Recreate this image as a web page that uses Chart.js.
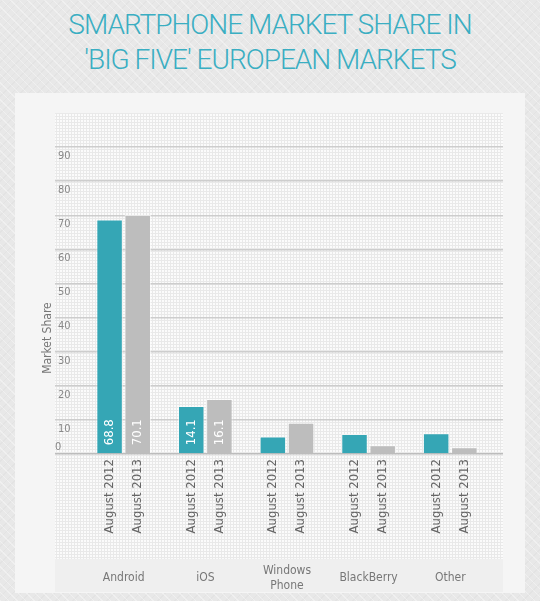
<!DOCTYPE html>
<html>
<head>
<meta charset="utf-8">
<title>Smartphone market share</title>
<script src="https://cdn.jsdelivr.net/npm/chart.js@4.4.1/dist/chart.umd.min.js"></script>
<style>
body {
	margin: 0;
	width: 540px;
	height: 601px;
	overflow: hidden;
	background-color: #e8e8e8;
	background-image:
		repeating-linear-gradient(45deg, rgba(255,255,255,0.35) 0 1px, transparent 1px 6px),
		repeating-linear-gradient(-45deg, rgba(0,0,0,0.025) 0 1px, transparent 1px 6px);
}
#title {
	position: absolute;
	left: 0;
	top: 7px;
	width: 540px;
	text-align: center;
	font-family: Roboto, "Open Sans", sans-serif;
	font-weight: 300;
	font-size: 28px;
	letter-spacing: -1px;
	line-height: 35px;
	color: #3aaec2;
}
#panel {
	position: absolute;
	left: 15px;
	top: 93px;
	width: 510px;
	height: 500px;
	background: #f5f5f5;
}
#chart {
	position: absolute;
	left: 0;
	top: 0;
}
</style>
</head>
<body>
<div id="title">SMARTPHONE MARKET SHARE IN<br>'BIG FIVE' EUROPEAN MARKETS</div>
<div id="panel"><canvas id="chart" width="510" height="513"></canvas></div>
<script>
// ----------------------------------------------------------------------
const categories = ['Android', 'iOS', ['Windows', 'Phone'], 'BlackBerry', 'Other']
const series_names = ['August 2012', 'August 2013']
const share_2012 = [68.8, 14.1, 5.1, 5.9, 6.1]
const share_2013 = [70.1, 16.1, 9.2, 2.6, 2.0]
const y_ticks = [0, 10, 20, 30, 40, 50, 60, 70, 80, 90, 100]
const y_title = 'Market Share'

const font_family = "'Liberation Sans Narrow', 'DejaVu Sans Condensed', 'Roboto Condensed', Roboto, sans-serif"
const teal = '#35a6b5'
const grey = '#bdbdbd'

// ----------------------------------------------------------------------
function to_points (values)
{
	return values.map ((v, i) => ({x: i, y: v}))
}

function dot_pattern (ctx)
{
	const cell = document.createElement ('canvas')
	cell.width = 3
	cell.height = 3
	const g = cell.getContext ('2d')
	g.fillStyle = '#e9e9e9'
	g.fillRect (0, 0, 3, 3)
	g.fillStyle = '#fbfbfb'
	g.fillRect (0, 0, 2, 2)
	return ctx.createPattern (cell, 'repeat')
}

// dotted plot backdrop and the grey band behind the category names
const backdrop = {
	id: 'backdrop',
	beforeDraw (chart)
	{
		const {ctx, chartArea} = chart
		const band_top = chartArea.bottom + 105
		ctx.save ()
		ctx.fillStyle = dot_pattern (ctx)
		ctx.fillRect (chartArea.left, chartArea.top, chartArea.width, band_top - chartArea.top)
		ctx.fillStyle = '#efefef'
		ctx.fillRect (chartArea.left, band_top, chartArea.width, 33)
		ctx.restore ()
	}
}

// series name under each bar, value inside bars tall enough, axis title
const bar_labels = {
	id: 'bar_labels',
	afterDatasetsDraw (chart)
	{
		const {ctx, chartArea} = chart
		chart.data.datasets.forEach ((ds, di) => {
			const meta = chart.getDatasetMeta (di)
			meta.data.forEach ((bar, i) => {
				ctx.save ()
				ctx.translate (bar.x, chartArea.bottom + 5)
				ctx.rotate (-Math.PI / 2)
				ctx.font = '13px ' + font_family
				ctx.fillStyle = '#666'
				ctx.textAlign = 'right'
				ctx.textBaseline = 'middle'
				ctx.fillText (ds.label, 0, 0)
				ctx.restore ()

				const text = ds.data[i].y.toFixed (1)
				ctx.save ()
				ctx.font = '13px ' + font_family
				const h = bar.base - bar.y
				if (ctx.measureText (text).width + 14 < h)
					{
					ctx.translate (bar.x, bar.base - 8)
					ctx.rotate (-Math.PI / 2)
					ctx.fillStyle = '#ffffff'
					ctx.textAlign = 'left'
					ctx.textBaseline = 'middle'
					ctx.fillText (text, 0, 0)
					}
				ctx.restore ()
			})
		})

		const ys = chart.scales.y
		ctx.save ()
		ctx.translate (chartArea.left - 7, ys.getPixelForValue (34))
		ctx.rotate (-Math.PI / 2)
		ctx.font = '12px ' + font_family
		ctx.fillStyle = '#777'
		ctx.textAlign = 'center'
		ctx.textBaseline = 'middle'
		ctx.fillText (y_title, 0, 0)
		ctx.restore ()
	}
}

// ----------------------------------------------------------------------
const graph_data = {
	datasets: [
		{label: series_names[0], data: to_points (share_2012), backgroundColor: teal,
			borderColor: 'rgba(255,255,255,0.55)', borderWidth: 1},
		{label: series_names[1], data: to_points (share_2013), backgroundColor: grey,
			borderColor: 'rgba(255,255,255,0.55)', borderWidth: 1}
	]
}

const config = {
	type: 'bar',
	data: graph_data,
	plugins: [backdrop, bar_labels],
	options: {
		responsive: false,
		animation: false,
		layout: {padding: {left: 14, right: 22, top: 20, bottom: 3.2}},
		categoryPercentage: 0.69,
		barPercentage: 0.94,
		plugins: {legend: {display: false}, tooltip: {enabled: false}},
		scales: {
			x: {
				type: 'linear',
				offset: false,
				min: -0.841,
				max: 4.646,
				afterBuildTicks: (s) => { s.ticks = categories.map ((c, i) => ({value: i})) },
				// invisible tick marks push the category names down to the band
				grid: {display: true, offset: false, drawOnChartArea: false, drawTicks: true,
					tickLength: 114, color: 'rgba(0,0,0,0)'},
				border: {display: false},
				ticks: {
					callback: (v) => categories[v],
					font: {family: font_family, size: 12},
					color: '#777',
					padding: 3,
					crossAlign: 'center',
					maxRotation: 0,
					autoSkip: false
				}
			},
			y: {
				position: 'left',
				weight: 0,
				min: 0,
				max: 100,
				afterBuildTicks: (s) => { s.ticks = y_ticks.map ((v) => ({value: v})) },
				grid: {
					drawTicks: false,
					color: (c) => c.tick.value === 100 ? 'rgba(0,0,0,0)' : (c.tick.value === 0 ? '#bcbcbc' : '#cdcdcd'),
					lineWidth: 1.5
				},
				border: {display: false},
				ticks: {
					mirror: true,
					padding: 3,
					labelOffset: 9,
					callback: (v) => (v === 0 || v === 100) ? '' : v,
					font: {family: font_family, size: 11},
					color: '#888'
				}
			},
			y_zero: {
				position: 'left',
				weight: 1,
				min: 0,
				max: 100,
				afterBuildTicks: (s) => { s.ticks = [{value: y_ticks[0]}] },
				grid: {display: false},
				border: {display: false},
				ticks: {
					mirror: true,
					padding: 6,
					labelOffset: -7,
					font: {family: font_family, size: 11},
					color: '#888'
				}
			}
		}
	}
}

const chart = new Chart (document.getElementById ('chart'), config)
// ----------------------------------------------------------------------
</script>
</body>
</html>
